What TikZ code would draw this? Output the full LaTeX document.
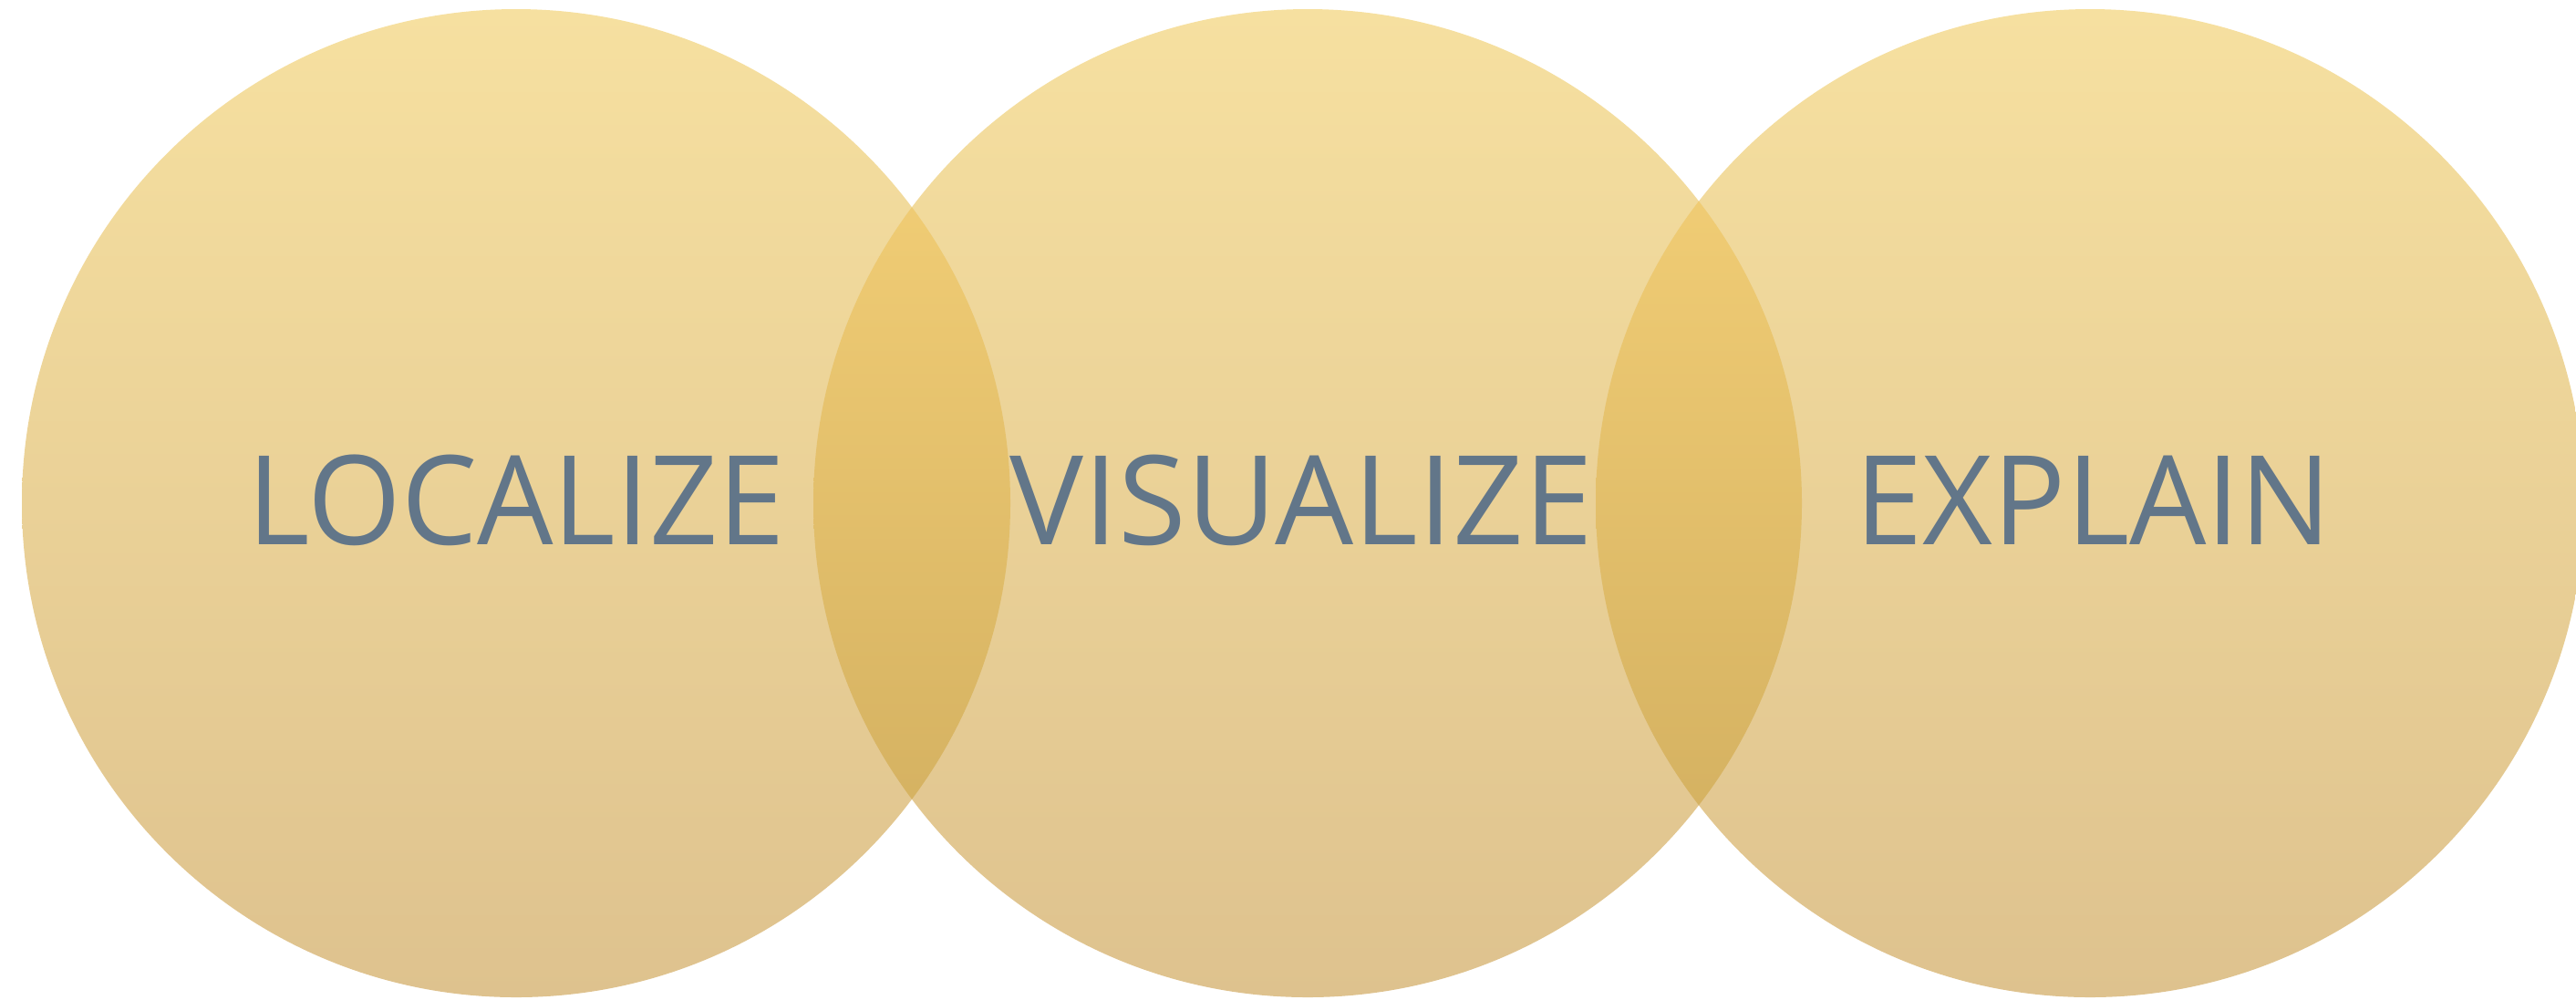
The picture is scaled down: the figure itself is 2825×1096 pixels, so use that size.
\documentclass[tikz,border=0pt]{standalone}
\usepackage{fontspec}
\setmainfont{Open Sans}
\definecolor{singletop}{RGB}{246,224,160}
\definecolor{singlebot}{RGB}{222,194,142}
\definecolor{lenstop}{RGB}{248,212,122}
\definecolor{lensbot}{RGB}{205,170,92}
\definecolor{txt}{RGB}{98,118,137}
\begin{document}
\begin{tikzpicture}[x=0.25pt,y=-0.25pt,
  disc/.style={circle,inner sep=0pt,minimum size=271pt,draw=none,
    top color=singletop,bottom color=singlebot},
  word/.style={anchor=base,text=txt,inner sep=0pt,
    font=\fontsize{34}{38}\selectfont}]
\useasboundingbox (0,0) rectangle (2825,1096);
\clip (0,0) rectangle (2825,1096);
\node[disc] (c1) at (566,552) {};
\node[disc] (c2) at (1434,552) {};
\node[disc] (c3) at (2292,552) {};
\begin{scope}
  \clip (c1.center) circle[radius=542];
  \shade[top color=lenstop,bottom color=lensbot] (c2.center) circle[radius=542];
\end{scope}
\begin{scope}
  \clip (c2.center) circle[radius=542];
  \shade[top color=lenstop,bottom color=lensbot] (c3.center) circle[radius=542];
\end{scope}
\node[word,xscale=0.97] (t1) at (566,597) {LOCALIZE};
\node[word] (t2) at (1427,597) {VISUALIZE};
\node[word,xscale=0.98] (t3) at (2296,597) {EXPLAIN};
\end{tikzpicture}
\end{document}
